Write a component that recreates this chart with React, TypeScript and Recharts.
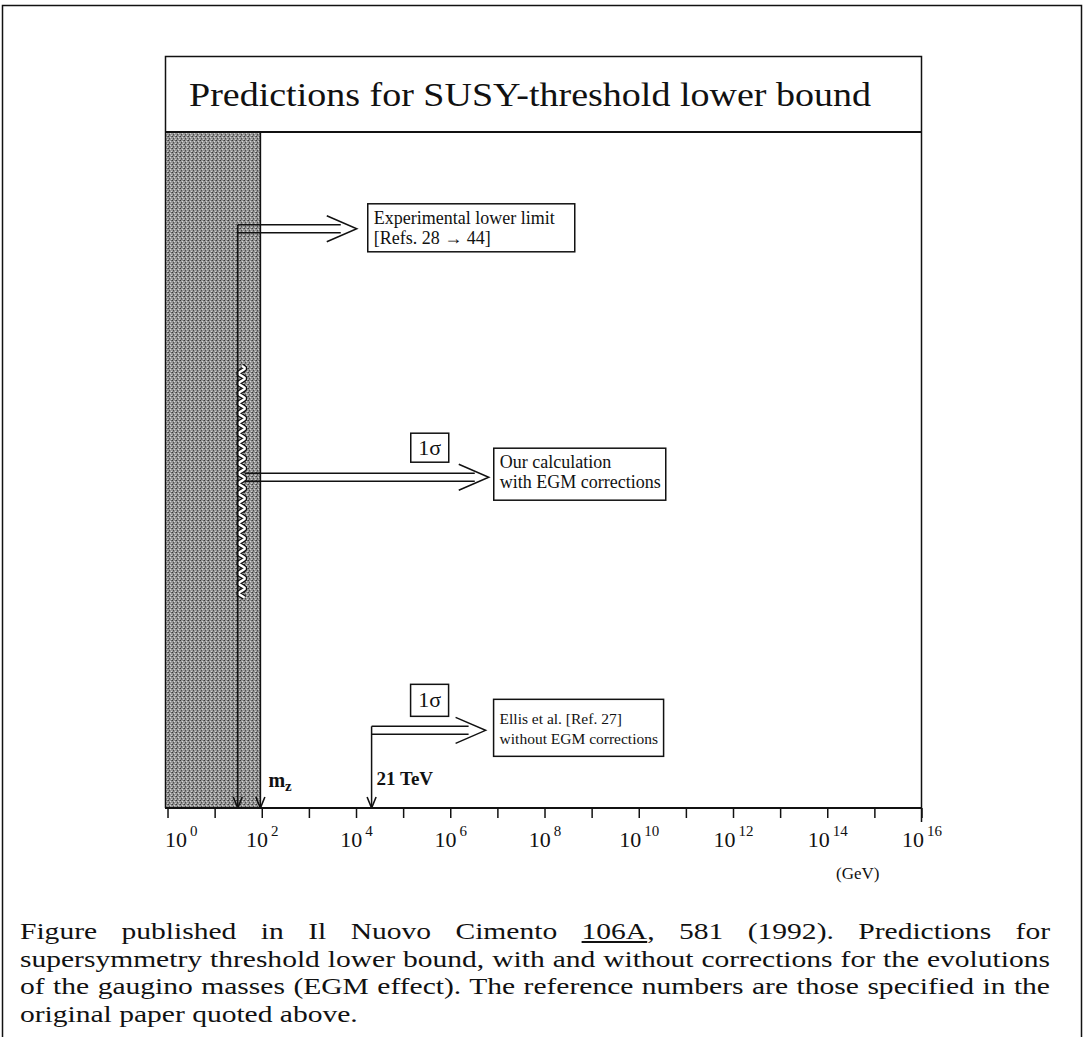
import React from "react";
import {
  ComposedChart,
  XAxis,
  YAxis,
  Scatter,
  ReferenceArea,
  ReferenceLine,
  ReferenceDot,
} from "recharts";

// Energy axis is log10(E / GeV), one tick per decade
const decades = [0, 1, 2, 3, 4, 5, 6, 7, 8, 9, 10, 11, 12, 13, 14, 15, 16];
const axisStart = -0.064; // frame sits a hair left of 10^0
const expLimit = 1.48; // experimental lower limit (~30 GeV)
const mZ = 1.96; // m_Z ~ 91 GeV
const ellisBound = 4.32; // 21 TeV

// Vertical placement (0-100 scale) of the three predictions
const expLevel = 86.4;
const oursLevel = 49.6;
const ellisLevel = 12.1;
const oursBand = [31, 65.5]; // wavy 1-sigma band of our calculation

// Arrow feet sitting on the energy axis
const arrowFeet = [
  { x: expLimit, y: 0 },
  { x: mZ, y: 0 },
  { x: ellisBound, y: 0 },
];

const expText = ["Experimental lower limit", "[Refs. 28 \u2192 44]"];
const oursText = ["Our calculation", "with EGM corrections"];
const ellisText = ["Ellis et al. [Ref. 27]", "without EGM corrections"];

const serif = "'Liberation Serif', 'Times New Roman', serif";
const ink = "#111";

// Double-shafted arrow pointing right, with an open chevron head
const DoubleArrow = ({ x0, x1, tip, cy }: { x0: number; x1: number; tip: number; cy: number }) => (
  <g stroke={ink} fill="none" strokeWidth={1.5}>
    <line x1={x0} y1={cy} x2={x1} y2={cy} />
    <line x1={x0} y1={cy + 8} x2={x1} y2={cy + 8} />
    <polyline points={`${tip - 30},${cy - 9} ${tip},${cy + 4} ${tip - 30},${cy + 17}`} />
  </g>
);

const TextBox = ({
  x, y, w, h, lines, base, size,
}: { x: number; y: number; w: number; h: number; lines: string[]; base: number; size: number }) => (
  <g>
    <rect x={x} y={y} width={w} height={h} fill="#fff" stroke={ink} strokeWidth={1.5} />
    {lines.map((t, i) => (
      <text key={i} x={x + 6} y={y + base + i * 20} fontFamily={serif} fontSize={size} fill={ink}>
        {t}
      </text>
    ))}
  </g>
);

const SigmaBox = ({ x, y, h }: { x: number; y: number; h: number }) => (
  <g>
    <rect x={x} y={y} width={38} height={h} fill="#fff" stroke={ink} strokeWidth={1.5} />
    <text x={x + 19} y={y + h / 2 + 7} textAnchor="middle" fontFamily={serif} fontSize={22} fill={ink}>
      {"1\u03c3"}
    </text>
  </g>
);

const ExpNote = (p: any) => {
  const { cx, cy } = p;
  return (
    <g>
      <DoubleArrow x0={cx} x1={cx + 103} tip={cx + 119} cy={cy} />
      <TextBox x={cx + 130} y={cy - 21} w={207} h={48} lines={expText} base={20} size={18} />
    </g>
  );
};

const OursNote = (p: any) => {
  const { cx, cy } = p;
  return (
    <g>
      <DoubleArrow x0={cx + 7} x1={cx + 237} tip={cx + 251} cy={cy} />
      <SigmaBox x={cx + 173} y={cy - 40} h={29} />
      <TextBox x={cx + 256} y={cy - 25} w={172} h={52} lines={oursText} base={20} size={18} />
    </g>
  );
};

const EllisNote = (p: any) => {
  const { cx, cy } = p;
  return (
    <g>
      <DoubleArrow x0={cx} x1={cx + 97} tip={cx + 114} cy={cy} />
      <SigmaBox x={cx + 39} y={cy - 42} h={32} />
      <TextBox x={cx + 122} y={cy - 27} w={170} h={57} lines={ellisText} base={25} size={15.5} />
      <text x={cx + 5} y={cy + 59} fontFamily={serif} fontWeight="bold" fontSize={19} fill={ink}>
        21 TeV
      </text>
    </g>
  );
};

const MzLabel = (p: any) => {
  const { cx, cy } = p;
  return (
    <text x={cx + 8} y={cy - 21} fontFamily={serif} fontWeight="bold" fontSize={20} fill={ink}>
      m<tspan fontSize={15} dy={4}>z</tspan>
    </text>
  );
};

// White squiggle with black outline along the experimental line
const Wavy = (p: any) => {
  const { x, y, height } = p;
  const pts: string[] = [];
  for (let t = 0; t <= height; t += 1) {
    pts.push(`${(x + 4 + 3 * Math.sin((2 * Math.PI * t) / 10)).toFixed(1)},${(y + t).toFixed(1)}`);
  }
  const d = "M" + pts.join(" L");
  return (
    <g fill="none">
      <path d={d} stroke={ink} strokeWidth={5} />
      <path d={d} stroke="#fff" strokeWidth={2.4} />
    </g>
  );
};

const ArrowFoot = (p: any) => {
  const { cx, cy } = p;
  return (
    <path
      d={`M${cx - 4.5},${cy - 11} L${cx},${cy} L${cx + 4.5},${cy - 11}`}
      stroke={ink}
      strokeWidth={1.6}
      fill="none"
    />
  );
};

const DecadeTick = (p: any) => {
  const { x, y, payload } = p;
  const v = payload.value;
  if (v % 2 !== 0) return <g />;
  return (
    <text
      x={v === 0 ? x - 3 : x}
      y={y + 27}
      textAnchor={v === 0 ? "start" : "middle"}
      fontFamily={serif}
      fontSize={22}
      fill={ink}
    >
      10
      <tspan dx={3} dy={-11} fontSize={15}>
        {v}
      </tspan>
    </text>
  );
};

const captionLines = [
  "supersymmetry threshold lower bound, with and without corrections for the evolutions",
  "of the gaugino masses (EGM effect). The reference numbers are those specified in the",
];

const capScale = 1.23;
const capLine = (top: number, justify: boolean): React.CSSProperties => ({
  position: "absolute",
  left: 20,
  top,
  width: 1030 / capScale,
  transform: `scaleX(${capScale})`,
  transformOrigin: "left top",
  fontFamily: serif,
  fontSize: 24,
  lineHeight: "27.5px",
  whiteSpace: "nowrap",
  textAlign: justify ? "justify" : "left",
  textAlignLast: justify ? "justify" : "left",
  color: ink,
});

export default function App() {
  return (
    <div
      style={{
        position: "absolute",
        left: 0,
        top: 0,
        width: 1084,
        height: 1037,
        overflow: "hidden",
        background: "#fff",
      }}
    >
      <svg width={0} height={0} style={{ position: "absolute" }}>
        <defs>
          <pattern id="stipple" width={4} height={4} patternUnits="userSpaceOnUse">
            <rect width={4} height={4} fill="#979797" />
            <rect x={0} y={0} width={1} height={1} fill="#3a3a3a" />
            <rect x={2} y={1} width={1} height={1} fill="#d4d4d4" />
            <rect x={1} y={2} width={1} height={1} fill="#4c4c4c" />
            <rect x={3} y={3} width={1} height={1} fill="#cfcfcf" />
            <rect x={3} y={0} width={1} height={1} fill="#666" />
            <rect x={1} y={3} width={1} height={1} fill="#707070" />
          </pattern>
        </defs>
      </svg>

      <div style={{ position: "absolute", left: 165, top: 56, width: 757, height: 76 }}>
        <svg width={757} height={76}>
          <text
            x={24}
            y={50}
            fontFamily={serif}
            fontSize={33}
            textLength={682}
            lengthAdjust="spacingAndGlyphs"
            fill={ink}
          >
            Predictions for SUSY-threshold lower bound
          </text>
        </svg>
      </div>

      <div style={{ position: "absolute", left: 0, top: 0 }}>
        <ComposedChart
          width={1084}
          height={1037}
          data={arrowFeet}
          margin={{ top: 133, right: 162, bottom: 169, left: 165 }}
        >
          <XAxis
            type="number"
            dataKey="x"
            domain={[axisStart, 16]}
            ticks={decades}
            interval={0}
            allowDataOverflow
            height={60}
            tickSize={10}
            axisLine={{ stroke: ink, strokeWidth: 2 }}
            tickLine={{ stroke: ink, strokeWidth: 1.5 }}
            tick={<DecadeTick />}
          />
          <YAxis type="number" dataKey="y" domain={[0, 100]} hide allowDataOverflow />
          <ReferenceArea
            x1={axisStart}
            x2={mZ}
            y1={0}
            y2={100}
            fill="url(#stipple)"
            fillOpacity={1}
            stroke="none"
            ifOverflow="visible"
          />
          <ReferenceLine
            segment={[{ x: mZ, y: 100 }, { x: mZ, y: 0 }]}
            stroke={ink}
            strokeWidth={1.6}
            ifOverflow="visible"
          />
          <ReferenceLine
            segment={[{ x: expLimit, y: expLevel }, { x: expLimit, y: 0 }]}
            stroke={ink}
            strokeWidth={1.6}
            ifOverflow="visible"
          />
          <ReferenceLine
            segment={[{ x: ellisBound, y: ellisLevel }, { x: ellisBound, y: 0 }]}
            stroke={ink}
            strokeWidth={1.5}
            ifOverflow="visible"
          />
          <ReferenceArea
            x1={expLimit}
            x2={mZ}
            y1={oursBand[0]}
            y2={oursBand[1]}
            shape={<Wavy />}
            ifOverflow="visible"
          />
          <ReferenceDot x={expLimit} y={expLevel} r={0} shape={<ExpNote />} ifOverflow="visible" />
          <ReferenceDot x={expLimit} y={oursLevel} r={0} shape={<OursNote />} ifOverflow="visible" />
          <ReferenceDot x={ellisBound} y={ellisLevel} r={0} shape={<EllisNote />} ifOverflow="visible" />
          <ReferenceDot x={mZ} y={0} r={0} shape={<MzLabel />} ifOverflow="visible" />
          <Scatter dataKey="y" shape={<ArrowFoot />} isAnimationActive={false} />
        </ComposedChart>
      </div>

      <svg
        width={1084}
        height={1037}
        style={{ position: "absolute", left: 0, top: 0, pointerEvents: "none" }}
      >
        <path d="M2.5,1037 V5.5 H1081.5 V1037" stroke={ink} strokeWidth={1.5} fill="none" />
        <path d="M165.5,808 V56.5 H921.5 V822" stroke={ink} strokeWidth={1.5} fill="none" />
        <line x1={165.5} y1={132} x2={921.5} y2={132} stroke={ink} strokeWidth={2.2} />
        <text x={836} y={879} fontFamily={serif} fontSize={17} fill={ink}>
          (GeV)
        </text>
      </svg>

      <div style={capLine(918, true)}>
        Figure published in Il Nuovo Cimento <span style={{ textDecoration: "underline" }}>106A</span>, 581
        (1992). Predictions for
      </div>
      <div style={capLine(945.5, true)}>{captionLines[0]}</div>
      <div style={capLine(973, true)}>{captionLines[1]}</div>
      <div style={capLine(1000.5, false)}>original paper quoted above.</div>
    </div>
  );
}
